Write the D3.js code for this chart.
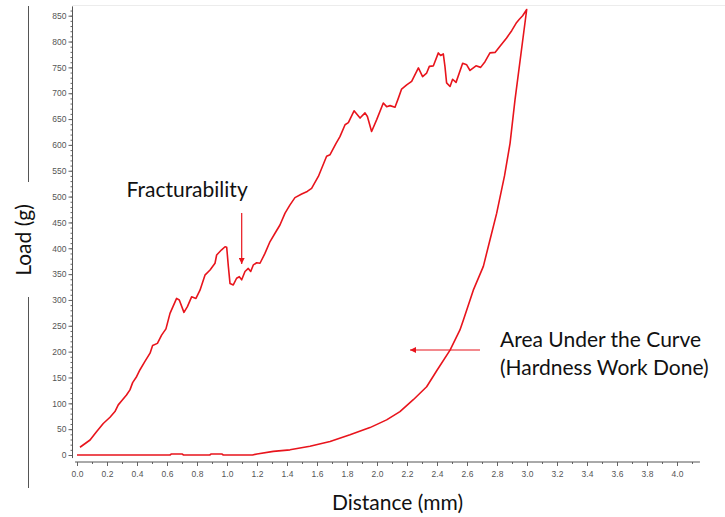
<!DOCTYPE html>
<html>
<head>
<meta charset="utf-8">
<script src="https://cdn.jsdelivr.net/npm/d3@7/dist/d3.min.js"></script>
<style>
  html, body { margin: 0; padding: 0; background: #fff; }
  svg { display: block; }
  .tick text { font-family: "Liberation Sans", Arial, sans-serif; font-size: 8.5px; fill: #555; }
  .tick line { stroke: #666; }
</style>
</head>
<body>
<svg id="chart" width="725" height="517"></svg>
<script>
// ---- Data ----
const loadingX = [0.02,0.087,0.13,0.175,0.22,0.253,0.275,0.298,0.33,0.353,0.371,0.398,0.42,0.453,0.487,0.504,0.536,0.564,0.593,0.62,0.664,0.682,0.713,0.736,0.764,0.793,0.82,0.853,0.887,0.92,0.931,0.964,0.987,0.998,1.009,1.02,1.042,1.064,1.082,1.098,1.12,1.142,1.158,1.176,1.198,1.22,1.253,1.287,1.32,1.353,1.387,1.42,1.453,1.498,1.535,1.564,1.609,1.664,1.687,1.727,1.753,1.787,1.809,1.847,1.887,1.92,1.936,1.964,1.998,2.042,2.064,2.087,2.12,2.142,2.164,2.198,2.231,2.276,2.304,2.331,2.349,2.376,2.409,2.424,2.442,2.453,2.464,2.487,2.504,2.527,2.571,2.598,2.62,2.66,2.691,2.72,2.753,2.787,2.82,2.864,2.898,2.931,2.949,2.971,2.998];
const loadingY = [15,29,45,61,73,84,97,105,116,126,140,152,165,181,197,212,216,232,244,274,303,300,276,287,306,303,319,348,358,371,387,397,403,402,365,332,329,342,345,339,355,361,355,368,372,371,390,413,429,445,468,484,498,505,510,516,539,578,581,603,616,639,643,666,652,662,655,626,649,681,674,676,673,690,708,716,723,749,732,739,752,753,778,773,776,752,720,713,727,721,758,755,744,753,750,761,778,779,791,807,821,837,843,850,862];
const unloadingX = [2.998,2.92,2.887,2.85,2.798,2.753,2.709,2.642,2.576,2.553,2.487,2.398,2.331,2.242,2.153,2.064,1.953,1.82,1.687,1.553,1.42,1.309,1.2,1.17,0.975,0.965,0.895,0.885,0.71,0.70,0.63,0.62,0];
const unloadingY = [862,687,603,540,468,416,365,319,261,242,203,163,132,107,84,68,53,39,26,17,10,7,2,0,0,2,2,0,0,2,2,0,0];
const yMajorTicks = [0,50,100,150,200,250,300,350,400,450,500,550,600,650,700,750,800,850];
const xMajorTicks = [0,0.2,0.4,0.6,0.8,1.0,1.2,1.4,1.6,1.8,2.0,2.2,2.4,2.6,2.8,3.0,3.2,3.4,3.6,3.8,4.0];
const xTitle = "Distance (mm)";
const yTitle = "Load (g)";
const annFract = "Fracturability";
const annArea = ["Area Under the Curve", "(Hardness Work Done)"];

// ---- Scales ----
const svg = d3.select("#chart");
const x = d3.scaleLinear().domain([0, 4]).range([77, 677]);
const y = d3.scaleLinear().domain([0, 850]).range([455, 15.7]);
const red = "#e8141c";
const font = "Lato, sans-serif";
const fs = 21;

// faint top border of plot frame
svg.append("line").attr("x1", 72.5).attr("x2", 725).attr("y1", 5.5).attr("y2", 5.5)
  .attr("stroke", "#ececec").attr("stroke-width", 1);

// ---- Y axis ----
const yMinor = d3.range(0, 861, 10);
const yAxisG = svg.append("g").attr("transform", "translate(72.5,0)");
yAxisG.append("g").call(d3.axisLeft(y).tickValues(yMinor).tickSize(2).tickFormat(""))
  .call(g => g.select(".domain").remove());
yAxisG.append("g").call(d3.axisLeft(y).tickValues(yMajorTicks).tickSize(4).tickPadding(2).tickFormat(d3.format("d")))
  .call(g => g.select(".domain").remove());
yAxisG.append("line").attr("x1", 0).attr("x2", 0).attr("y1", y(868)).attr("y2", y(-6))
  .attr("stroke", "#555").attr("stroke-width", 1);

// ---- X axis ----
const xMinor = d3.range(0, 42).map(i => i / 10);
const xAxisG = svg.append("g").attr("transform", "translate(0,462)");
xAxisG.append("g").call(d3.axisBottom(x).tickValues(xMinor).tickSize(2).tickFormat(""))
  .call(g => g.select(".domain").remove());
xAxisG.append("g").call(d3.axisBottom(x).tickValues(xMajorTicks).tickSize(4).tickPadding(4.7).tickFormat(d3.format(".1f")))
  .call(g => g.select(".domain").remove());
xAxisG.append("line").attr("x1", x(-0.013)).attr("x2", x(4.153)).attr("y1", 0).attr("y2", 0)
  .attr("stroke", "#555").attr("stroke-width", 1);

// ---- Curve ----
const loading = loadingX.map((d, i) => [d, loadingY[i]]);
const unloading = unloadingX.map((d, i) => [d, unloadingY[i]]);
const line = d3.line().x(d => x(d[0])).y(d => y(d[1]));
svg.append("path").datum(loading.concat(unloading.slice(1)))
  .attr("d", line).attr("fill", "none").attr("stroke", red)
  .attr("stroke-width", 1.6).attr("stroke-linejoin", "round");

// ---- Titles ----
svg.append("text").attr("x", 397.5).attr("y", 510).attr("text-anchor", "middle")
  .attr("font-family", font).attr("font-size", fs).attr("fill", "#111").text(xTitle);
svg.append("text").attr("transform", "translate(31,240) rotate(-90)").attr("text-anchor", "middle")
  .attr("font-family", font).attr("font-size", fs).attr("fill", "#111").text(yTitle);
// bracket lines beside y title
svg.append("line").attr("x1", 28.5).attr("x2", 28.5).attr("y1", 6).attr("y2", 182).attr("stroke", "#555");
svg.append("line").attr("x1", 28.5).attr("x2", 28.5).attr("y1", 297).attr("y2", 488).attr("stroke", "#555");

// ---- Annotations ----
const defs = svg.append("defs");
defs.append("marker").attr("id", "ah").attr("viewBox", "0 0 10 10").attr("refX", 10).attr("refY", 5)
  .attr("markerWidth", 6).attr("markerHeight", 6).attr("markerUnits", "userSpaceOnUse").attr("orient", "auto")
  .append("path").attr("d", "M0,0 L10,5 L0,10 Z").attr("fill", red);

svg.append("text").attr("x", 126.5).attr("y", 197)
  .attr("font-family", font).attr("font-size", fs).attr("fill", "#111").text(annFract);
svg.append("line").attr("x1", 241.7).attr("x2", 241.7).attr("y1", 213).attr("y2", 264)
  .attr("stroke", red).attr("stroke-width", 1.2).attr("marker-end", "url(#ah)");

svg.append("text").attr("x", 500).attr("y", 347)
  .attr("font-family", font).attr("font-size", fs).attr("fill", "#111").text(annArea[0]);
svg.append("text").attr("x", 500).attr("y", 375)
  .attr("font-family", font).attr("font-size", fs).attr("fill", "#111").text(annArea[1]);
svg.append("line").attr("x1", 480).attr("x2", 410).attr("y1", 350).attr("y2", 350)
  .attr("stroke", red).attr("stroke-width", 1.2).attr("marker-end", "url(#ah)");
</script>
</body>
</html>
